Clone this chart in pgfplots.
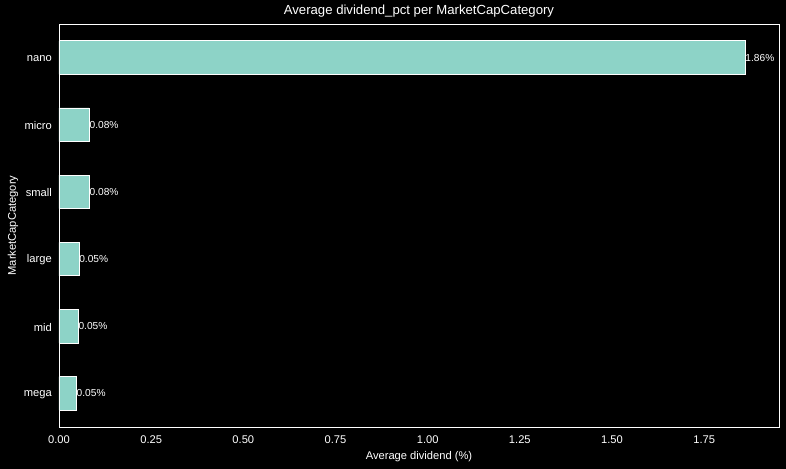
\documentclass[border=0pt]{standalone}
\usepackage{pgfplots}
\pgfplotsset{compat=1.18}
\usepackage{fontspec}
\setmainfont{Liberation Sans}
\definecolor{barcol}{HTML}{8DD3C7}
\begin{document}
\begin{tikzpicture}
\useasboundingbox (-59bp,-42bp) rectangle (727bp,427bp);
\fill[black] (-59bp,-42bp) rectangle (727bp,427bp);
\begin{axis}[
  at={(0,0)}, anchor=south west,
  scale only axis,
  width=720bp, height=403bp,
  xmin=0, xmax=1.953,
  ymin=-0.5, ymax=5.5,
  xbar, bar shift=0pt, bar width=0.5,
  axis line style={white, line width=0.8pt},
  major tick length=0pt,
  xtick={0,0.25,0.5,0.75,1,1.25,1.5,1.75},
  xticklabels={0.00,0.25,0.50,0.75,1.00,1.25,1.50,1.75},
  ytick={0,1,2,3,4,5},
  yticklabels={mega,mid,large,small,micro,nano},
  /pgf/number format/assume math mode=true,
  ticklabel style={font=\fontsize{11.2}{13}\selectfont, text=white},
  xticklabel style={anchor=base, yshift=-16bp, inner sep=0pt},
  yticklabel style={anchor=east, xshift=-7bp, yshift=-1bp, inner sep=0pt},
  xlabel={Average dividend (\%)},
  ylabel={MarketCapCategory},
  every axis x label/.style={at={(axis description cs:0.5,0)}, anchor=base, yshift=-32bp, inner sep=0pt, font=\fontsize{11.2}{13}\selectfont, text=white},
  every axis y label/.style={at={(axis description cs:0,0.5)}, rotate=90, anchor=center, yshift=46bp, inner sep=0pt, font=\fontsize{11.2}{13}\selectfont, text=white},
  title={Average dividend\_pct per MarketCapCategory},
  title style={at={(axis description cs:0.5,1)}, anchor=base, yshift=4bp, inner sep=0pt, font=\fontsize{13.2}{15}\selectfont, text=white},
  point meta=x,
  nodes near coords={\pgfmathprintnumber[fixed,fixed zerofill,precision=2]{\pgfplotspointmeta}\%},
  nodes near coords style={anchor=west, inner sep=0pt, font=\fontsize{10.2}{12}\selectfont, text=white},
]
\addplot[fill=barcol, draw=white, line width=0.8pt] coordinates {
  (0.047,0) (0.052,1) (0.054,2) (0.082,3) (0.082,4) (1.861,5)
};
\end{axis}
\end{tikzpicture}
\end{document}
